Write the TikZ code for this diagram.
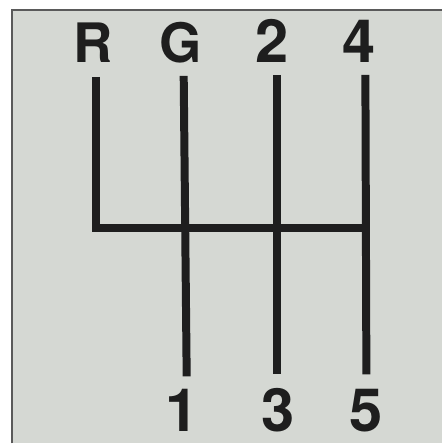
\documentclass[tikz,border=0pt]{standalone}
\usepackage{fontspec}
\setmainfont{TeX Gyre Heros}
\definecolor{shiftInk}{HTML}{1E1E1E}
\definecolor{shiftPanel}{HTML}{D5D8D3}
\definecolor{shiftEdge}{HTML}{5A5A5A}
\tikzset{
  gearLabel/.style={font=\fontsize{34}{34}\selectfont\bfseries,text=shiftInk,inner sep=0pt,anchor=base},
  gearLetter/.style={gearLabel,font=\fontsize{31}{31}\selectfont\bfseries},
  gateLine/.style={draw=shiftInk,line width=8*0.02cm}
}
\begin{document}
\begin{tikzpicture}[x=0.02cm,y=-0.02cm]
% page and panel
\fill[white] (0,0) rectangle (443,444);
\fill[shiftPanel] (12,10) rectangle (443,444);
\draw[shiftEdge,line width=1.5*0.02cm] (12,444) -- (12,10) -- (443,10);
\useasboundingbox (0,0) rectangle (443,444);
% gear labels
\node[gearLetter] (R) at (93,63) {R};
\node[gearLetter] (G) at (181,63) {G};
\node[gearLabel] (two) at (273,63) {2};
\node[gearLabel] (four) at (360,63) {4};
\node[gearLabel] (one) at (182,432) {1};
\node[gearLabel] (three) at (279,432) {3};
\node[gearLabel] (five) at (367,432) {5};
% gate ends
\coordinate (tR) at (96,77);
\coordinate (tG) at (184,76);
\coordinate (tTwo) at (277,75);
\coordinate (tFour) at (366,75);
\coordinate (bG) at (187,377);
\coordinate (bTwo) at (277,375);
\coordinate (bFour) at (367,375);
\coordinate (cR) at (96,228);
\coordinate (cFour) at (366,228);
% gates
\draw[gateLine] (tR) -- (cR) -- (cFour);
\draw[gateLine] (tG) -- (bG);
\draw[gateLine] (tTwo) -- (bTwo);
\draw[gateLine] (tFour) -- (bFour);
\end{tikzpicture}
\end{document}
